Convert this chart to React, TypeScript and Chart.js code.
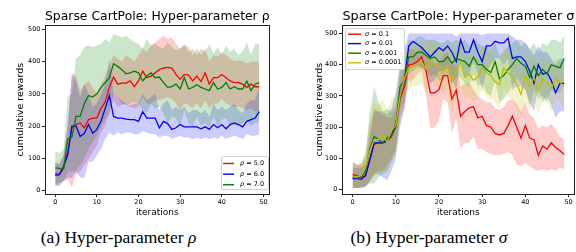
import React, { useEffect, useRef } from "react";
import { Chart, registerables } from "chart.js";

Chart.register(...registerables);

// ---------- data ----------
const ITERATIONS = [0, 1, 2, 3, 4, 5, 6, 7, 8, 9, 10, 11, 12, 13, 14, 15, 16, 17, 18, 19, 20, 21, 22, 23, 24, 25, 26, 27, 28, 29, 30, 31, 32, 33, 34, 35, 36, 37, 38, 39, 40, 41, 42, 43, 44, 45, 46, 47, 48, 49];
const X_TICKS = [0, 10, 20, 30, 40, 50];
const Y_TICKS = [0, 100, 200, 300, 400, 500];

// Left panel: rho
const RHO_NAMES = ["5.0", "6.0", "7.0"];
const RHO5_MEAN = [55, 50, 70, 120, 195, 205, 210, 195, 220, 225, 225, 255, 275, 320, 352, 330, 333, 333, 340, 322, 340, 370, 350, 355, 365, 375, 380, 382, 380, 360, 345, 360, 358, 340, 355, 338, 365, 330, 350, 350, 360, 350, 340, 335, 335, 330, 320, 330, 322, 322];
const RHO5_HIGH = [90, 85, 110, 200, 365, 355, 310, 330, 340, 320, 300, 330, 355, 390, 420, 410, 400, 420, 410, 400, 420, 440, 430, 450, 460, 470, 480, 470, 475, 455, 440, 450, 445, 420, 440, 420, 440, 400, 420, 415, 430, 420, 410, 400, 405, 400, 395, 400, 400, 400];
const RHO5_LOW = [20, 25, 30, 35, 10, 50, 60, 80, 100, 120, 140, 180, 200, 240, 280, 260, 265, 270, 260, 255, 260, 290, 270, 270, 280, 280, 285, 290, 285, 270, 250, 270, 265, 255, 270, 255, 280, 255, 270, 270, 285, 270, 265, 260, 260, 255, 250, 255, 245, 245];

const RHO6_MEAN = [48, 50, 75, 110, 200, 200, 168, 178, 205, 178, 190, 215, 255, 295, 230, 225, 225, 222, 220, 220, 215, 245, 225, 225, 225, 195, 215, 208, 190, 195, 205, 198, 198, 198, 198, 192, 198, 190, 205, 195, 205, 192, 205, 210, 205, 198, 215, 220, 225, 245];
const RHO6_HIGH = [85, 80, 110, 200, 360, 340, 290, 330, 300, 260, 270, 300, 330, 410, 300, 290, 280, 270, 265, 270, 270, 300, 280, 290, 300, 250, 270, 280, 250, 260, 250, 260, 240, 250, 250, 240, 250, 230, 270, 250, 260, 250, 260, 270, 250, 240, 270, 280, 280, 320];
const RHO6_LOW = [15, 15, 30, 40, 40, 60, 40, 40, 90, 90, 110, 130, 160, 180, 170, 180, 175, 180, 180, 175, 175, 185, 180, 175, 175, 165, 170, 170, 160, 165, 170, 165, 165, 160, 165, 160, 165, 160, 165, 160, 170, 160, 165, 170, 165, 160, 175, 170, 170, 175];

const RHO7_MEAN = [71, 69, 67, 160, 165, 230, 230, 270, 295, 290, 300, 320, 335, 350, 393, 385, 375, 362, 365, 370, 365, 340, 355, 365, 350, 352, 335, 320, 322, 330, 315, 350, 315, 320, 328, 320, 315, 310, 335, 315, 320, 335, 315, 322, 315, 315, 340, 310, 330, 335];
const RHO7_HIGH = [125, 115, 130, 290, 300, 410, 420, 445, 450, 445, 450, 455, 470, 460, 485, 480, 475, 480, 470, 460, 455, 440, 470, 450, 455, 445, 440, 460, 445, 435, 440, 455, 430, 440, 420, 440, 430, 455, 425, 445, 420, 450, 430, 440, 420, 430, 460, 420, 455, 455];
const RHO7_LOW = [15, 20, 30, 60, 60, 60, 80, 100, 130, 150, 170, 200, 220, 240, 300, 290, 270, 265, 270, 275, 270, 250, 240, 270, 255, 260, 240, 210, 230, 225, 200, 250, 210, 200, 230, 200, 210, 195, 230, 200, 220, 225, 200, 205, 200, 210, 215, 200, 210, 215];

// Right panel: sigma
const SIGMA_NAMES = ["0.1", "0.01", "0.001", "0.0001"];
const SIG1_MEAN = [48, 45, 40, 45, 100, 145, 150, 150, 155, 170, 200, 290, 330, 400, 402, 410, 425, 380, 310, 310, 320, 365, 365, 290, 318, 235, 250, 262, 265, 230, 235, 205, 200, 180, 175, 180, 205, 235, 200, 165, 205, 165, 160, 110, 140, 130, 150, 135, 125, 112];
const SIG1_HIGH = [90, 80, 80, 100, 200, 260, 250, 240, 230, 230, 260, 350, 400, 450, 450, 440, 460, 430, 420, 400, 410, 430, 440, 400, 400, 330, 340, 340, 320, 300, 290, 280, 280, 260, 255, 265, 285, 290, 275, 250, 285, 240, 230, 195, 205, 200, 210, 195, 170, 160];
const SIG1_LOW = [5, 5, 10, 10, 30, 50, 60, 60, 80, 100, 130, 230, 260, 350, 350, 370, 380, 300, 195, 200, 220, 290, 280, 180, 230, 130, 150, 150, 170, 130, 130, 120, 115, 110, 110, 115, 120, 110, 80, 75, 85, 75, 65, 60, 65, 60, 65, 60, 70, 65];

const SIG01_MEAN = [35, 35, 33, 45, 95, 150, 150, 150, 155, 175, 210, 300, 350, 460, 475, 465, 455, 440, 425, 440, 455, 445, 460, 440, 410, 480, 440, 440, 480, 440, 410, 460, 460, 475, 470, 470, 485, 420, 425, 425, 410, 380, 340, 400, 370, 375, 350, 310, 340, 340];
const SIG01_HIGH = [70, 70, 70, 80, 170, 250, 250, 250, 240, 260, 310, 400, 450, 500, 500, 500, 500, 500, 500, 500, 500, 500, 500, 500, 490, 500, 500, 500, 500, 500, 495, 500, 500, 500, 500, 500, 500, 490, 480, 480, 470, 450, 430, 460, 440, 440, 420, 400, 420, 420];
const SIG01_LOW = [5, 5, 5, 10, 25, 50, 50, 40, 30, 60, 100, 200, 260, 380, 400, 400, 390, 380, 340, 350, 380, 380, 390, 360, 320, 420, 360, 370, 410, 370, 320, 380, 400, 420, 420, 400, 420, 320, 330, 330, 320, 280, 250, 330, 280, 300, 270, 230, 250, 250];

const SIG001_MEAN = [40, 38, 40, 60, 130, 170, 160, 150, 165, 175, 200, 330, 350, 425, 425, 440, 440, 430, 420, 425, 410, 410, 425, 405, 420, 415, 410, 395, 425, 400, 400, 385, 375, 410, 355, 365, 385, 400, 420, 405, 395, 360, 395, 365, 385, 370, 400, 395, 390, 420];
const SIG001_HIGH = [90, 80, 85, 120, 250, 330, 280, 250, 260, 250, 270, 400, 420, 480, 470, 490, 490, 480, 480, 480, 470, 470, 480, 470, 480, 470, 480, 460, 480, 470, 460, 460, 450, 470, 430, 440, 460, 470, 480, 460, 470, 450, 470, 440, 470, 460, 480, 480, 470, 495];
const SIG001_LOW = [5, 5, 5, 10, 20, 20, 40, 50, 60, 90, 120, 260, 280, 370, 380, 390, 390, 380, 360, 370, 350, 350, 370, 340, 360, 360, 340, 330, 370, 330, 340, 310, 300, 350, 280, 290, 310, 330, 360, 340, 320, 270, 320, 290, 300, 280, 320, 310, 310, 350];

const SIG0001_MEAN = [40, 40, 45, 70, 125, 160, 160, 175, 150, 190, 205, 300, 355, 390, 395, 400, 410, 385, 415, 400, 395, 380, 395, 345, 380, 410, 360, 370, 350, 360, 390, 375, 365, 345, 335, 390, 375, 360, 340, 305, 365, 330, 360, 315, 355, 345, 325, 355, 345, 330];
const SIG0001_HIGH = [80, 75, 80, 120, 230, 280, 270, 290, 250, 290, 300, 380, 420, 460, 460, 470, 470, 460, 480, 470, 460, 450, 470, 440, 460, 480, 430, 440, 420, 430, 460, 450, 440, 410, 410, 460, 450, 430, 420, 380, 430, 410, 430, 390, 420, 410, 400, 420, 410, 400];
const SIG0001_LOW = [5, 5, 10, 20, 30, 40, 50, 60, 50, 90, 110, 220, 290, 320, 330, 330, 340, 310, 350, 330, 330, 310, 320, 250, 300, 340, 290, 300, 280, 290, 320, 300, 290, 280, 260, 320, 300, 290, 260, 230, 300, 250, 290, 240, 290, 280, 250, 290, 280, 260];

// ---------- styling ----------
const FONT = "'DejaVu Sans', sans-serif";
const RED = "#ff0000";
const BLUE = "#0000ff";
const GREEN = "#008000";
const YELLOW = "#bfbf00";
const fillOf = (hex: string) => {
  const r = parseInt(hex.slice(1, 3), 16);
  const g = parseInt(hex.slice(3, 5), 16);
  const b = parseInt(hex.slice(5, 7), 16);
  return `rgba(${r},${g},${b},0.2)`;
};

type Series = { name: string; color: string; mean: number[]; low: number[]; high: number[] };

type PanelCfg = {
  title: string;
  symbol: string;
  series: Series[];
  yMin: number;
  yMax: number;
  canvasLeft: number;
  canvasWidth: number;
  canvasHeight: number;
  leftAxisW: number;
  rightAxisW: number;
  bottomAxisH: number;
  yTitlePad: number;
};

const LEFT_CFG: PanelCfg = {
  title: "Sparse CartPole: Hyper-parameter ρ",
  symbol: "ρ",
  series: [
    { name: RHO_NAMES[0], color: RED, mean: RHO5_MEAN, low: RHO5_LOW, high: RHO5_HIGH },
    { name: RHO_NAMES[1], color: BLUE, mean: RHO6_MEAN, low: RHO6_LOW, high: RHO6_HIGH },
    { name: RHO_NAMES[2], color: GREEN, mean: RHO7_MEAN, low: RHO7_LOW, high: RHO7_HIGH },
  ],
  yMin: -10,
  yMax: 512,
  canvasLeft: 0,
  canvasWidth: 288,
  canvasHeight: 222,
  leftAxisW: 45,
  rightAxisW: 18.5,
  bottomAxisH: 28,
  yTitlePad: 15.3,
};

const RIGHT_CFG: PanelCfg = {
  title: "Sparse CartPole: Hyper-parameter σ",
  symbol: "σ",
  series: [
    { name: SIGMA_NAMES[0], color: RED, mean: SIG1_MEAN, low: SIG1_LOW, high: SIG1_HIGH },
    { name: SIGMA_NAMES[1], color: BLUE, mean: SIG01_MEAN, low: SIG01_LOW, high: SIG01_HIGH },
    { name: SIGMA_NAMES[2], color: GREEN, mean: SIG001_MEAN, low: SIG001_LOW, high: SIG001_HIGH },
    { name: SIGMA_NAMES[3], color: YELLOW, mean: SIG0001_MEAN, low: SIG0001_LOW, high: SIG0001_HIGH },
  ],
  yMin: -14,
  yMax: 526,
  canvasLeft: 288,
  canvasWidth: 288,
  canvasHeight: 222,
  leftAxisW: 54,
  rightAxisW: 1.2,
  bottomAxisH: 28,
  yTitlePad: 25.5,
};

const FRAME = "#222";

const zeroPad = (s: any) => {
  s.paddingLeft = 0;
  s.paddingRight = 0;
  s.paddingTop = 0;
  s.paddingBottom = 0;
};

function Panel({ cfg }: { cfg: PanelCfg }) {
  const ref = useRef<HTMLCanvasElement>(null);
  useEffect(() => {
    if (!ref.current) return;
    const n = cfg.series.length;
    const datasets: any[] = [];
    const common = { pointRadius: 0, pointHoverRadius: 0, pointBorderWidth: 0, pointHitRadius: 0, xAxisID: "x", yAxisID: "y" };
    cfg.series.forEach((s, k) => {
      datasets.push({
        ...common,
        data: s.low,
        borderColor: "rgba(0,0,0,0)",
        borderWidth: 0,
        fill: false,
        order: 100 + (n - k),
      });
      datasets.push({
        ...common,
        data: s.high,
        borderColor: "rgba(0,0,0,0)",
        backgroundColor: fillOf(s.color),
        borderWidth: 0,
        fill: "-1",
        order: 100 + (n - k),
      });
    });
    cfg.series.forEach((s, k) => {
      datasets.push({
        ...common,
        data: s.mean,
        borderColor: s.color,
        backgroundColor: s.color,
        borderWidth: 1.3,
        fill: false,
        order: n - k,
      });
    });

    const tickFont = { family: FONT, size: 6.5 };
    const chart = new Chart(ref.current, {
      type: "line",
      data: { labels: ITERATIONS, datasets },
      options: {
        animation: false,
        responsive: false,
        maintainAspectRatio: false,
        devicePixelRatio: 1,
        layout: { padding: 0, autoPadding: false },
        elements: { line: { tension: 0 }, point: { radius: 0, hoverRadius: 0, borderWidth: 0 } },
        plugins: {
          legend: { display: false },
          tooltip: { enabled: false },
          title: {
            display: true,
            fullSize: false,
            text: cfg.title,
            color: "#000",
            font: { family: FONT, size: 12.8, weight: "normal" },
            padding: { top: 9, bottom: 1 },
          },
        },
        scales: {
          x: {
            type: "linear",
            position: "bottom",
            min: -2.45,
            max: 51.45,
            afterBuildTicks: (s: any) => {
              s.ticks = X_TICKS.map((v) => ({ value: v }));
            },
            afterFit: (s: any) => {
              s.height = cfg.bottomAxisH;
              zeroPad(s);
            },
            ticks: { color: "#000", font: tickFont, padding: 1, maxRotation: 0, autoSkip: false, includeBounds: false },
            grid: { display: true, drawOnChartArea: false, drawTicks: true, tickLength: 3, color: FRAME, lineWidth: 1 },
            border: { display: true, color: FRAME, width: 1 },
            title: {
              display: true,
              text: "iterations",
              color: "#000",
              font: { family: FONT, size: 9 },
              padding: { top: 0, bottom: 3.6 },
            },
          },
          y: {
            type: "linear",
            position: "left",
            min: cfg.yMin,
            max: cfg.yMax,
            afterBuildTicks: (s: any) => {
              s.ticks = Y_TICKS.map((v) => ({ value: v }));
            },
            afterFit: (s: any) => {
              s.width = cfg.leftAxisW;
              zeroPad(s);
            },
            ticks: { color: "#000", font: tickFont, padding: 1.5, includeBounds: false },
            grid: { display: true, drawOnChartArea: false, drawTicks: true, tickLength: 3, color: FRAME, lineWidth: 1 },
            border: { display: true, color: FRAME, width: 1 },
            title: {
              display: true,
              text: "cumulative rewards",
              color: "#000",
              font: { family: FONT, size: 9.5 },
              padding: { top: cfg.yTitlePad, bottom: 0 },
            },
          },
          yR: {
            type: "linear",
            position: "right",
            display: true,
            afterFit: (s: any) => {
              s.width = cfg.rightAxisW;
              zeroPad(s);
            },
            ticks: { display: false },
            grid: { display: false, drawTicks: false },
            border: { display: true, color: FRAME, width: 1 },
          },
          xT: {
            type: "linear",
            position: "top",
            display: true,
            afterFit: (s: any) => {
              s.height = 0;
              zeroPad(s);
            },
            ticks: { display: false },
            grid: { display: false, drawTicks: false },
            border: { display: true, color: FRAME, width: 1 },
          },
        },
      } as any,
    });
    return () => chart.destroy();
  }, [cfg]);

  return (
    <canvas
      ref={ref}
      width={cfg.canvasWidth}
      height={cfg.canvasHeight}
      style={{ position: "absolute", left: cfg.canvasLeft, top: 0, width: cfg.canvasWidth, height: cfg.canvasHeight }}
    />
  );
}

type LegendProps = {
  left: number;
  top: number;
  width: number;
  height: number;
  rowYs: number[];
  lineX0: number;
  lineX1: number;
  textX: number;
  symbol: string;
  series: Series[];
};

function Legend(p: LegendProps) {
  return (
    <div
      style={{
        position: "absolute",
        left: p.left,
        top: p.top,
        width: p.width,
        height: p.height,
        boxSizing: "border-box",
        border: "1px solid #d0d0d0",
        borderRadius: 2,
        background: "rgba(255,255,255,0.8)",
        fontFamily: FONT,
        fontSize: 6.5,
        color: "#000",
      }}
    >
      <svg
        width={p.width}
        height={p.height}
        style={{ position: "absolute", left: -1, top: -1, overflow: "visible" }}
      >
        {p.series.map((s, i) => (
          <line
            key={s.name}
            x1={p.lineX0}
            x2={p.lineX1}
            y1={p.rowYs[i]}
            y2={p.rowYs[i]}
            stroke={s.color}
            strokeWidth={1.4}
          />
        ))}
      </svg>
      {p.series.map((s, i) => (
        <div
          key={s.name}
          style={{
            position: "absolute",
            left: p.textX - 1,
            top: p.rowYs[i] - 6,
            height: 10,
            lineHeight: "10px",
            whiteSpace: "nowrap",
          }}
        >
          <span style={{ fontStyle: "italic" }}>{p.symbol}</span> = {s.name}
        </div>
      ))}
    </div>
  );
}

const captionStyle: React.CSSProperties = {
  position: "absolute",
  top: 229,
  width: 300,
  textAlign: "center",
  fontFamily: "'Liberation Serif', 'Times New Roman', serif",
  fontSize: 17.5,
  lineHeight: 1,
  color: "#000",
  whiteSpace: "nowrap",
};

export default function App() {
  return (
    <div
      style={{
        position: "absolute",
        left: 0,
        top: 0,
        width: 576,
        height: 252,
        overflow: "hidden",
        background: "#fff",
      }}
    >
      <Panel cfg={LEFT_CFG} />
      <Panel cfg={RIGHT_CFG} />
      <Legend
        left={221}
        top={155.5}
        width={48}
        height={34.5}
        rowYs={[7.5, 18.2, 28.7]}
        lineX0={2}
        lineX1={13}
        textX={19}
        symbol={LEFT_CFG.symbol}
        series={LEFT_CFG.series}
      />
      <Legend
        left={344.5}
        top={27.5}
        width={60.5}
        height={42}
        rowYs={[6.2, 15.6, 25.2, 34.8]}
        lineX0={3}
        lineX1={16}
        textX={20.5}
        symbol={RIGHT_CFG.symbol}
        series={RIGHT_CFG.series}
      />
      <div style={{ ...captionStyle, left: 118.5 - 150 }}>
        (a) Hyper-parameter <i>ρ</i>
      </div>
      <div style={{ ...captionStyle, left: 429 - 150 }}>
        (b) Hyper-parameter <i>σ</i>
      </div>
    </div>
  );
}
